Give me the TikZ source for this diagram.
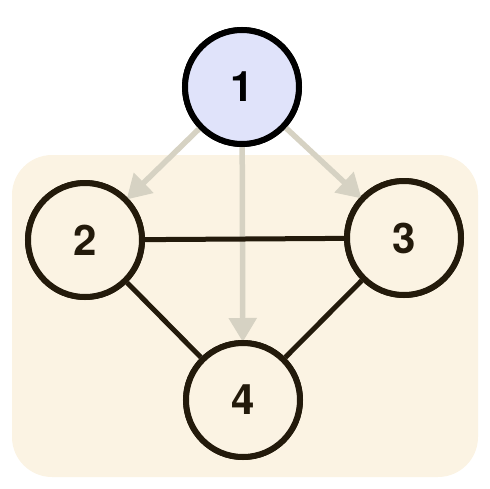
\documentclass[tikz,border=0pt]{standalone}
\usepackage{fontspec}
\setmainfont{TeX Gyre Heros}
\usetikzlibrary{arrows.meta}
\definecolor{bgcream}{HTML}{FBF3E3}
\definecolor{nodeline}{HTML}{231A0B}
\definecolor{topfill}{HTML}{E0E3FA}
\definecolor{arrowgrey}{HTML}{D6D2C3}
\begin{document}
\begin{tikzpicture}[x=1pt,y=-1pt,
  vtx/.style={circle,draw=nodeline,line width=6pt,minimum size=114pt,inner sep=0pt,fill=bgcream,font=\fontsize{42}{42}\selectfont\bfseries,text=nodeline},
  topvtx/.style={vtx,draw=black,fill=topfill,text=black},
  garrow/.style={draw=arrowgrey,line width=5.5pt,-{Triangle[length=24pt,width=27pt]},shorten >=-2pt},
  link/.style={draw=nodeline,line width=5pt}]
\useasboundingbox (0,0) rectangle (490,488);
\fill[bgcream,rounded corners=40pt] (12,155) rectangle (478,477);
\node[topvtx] (n1) at (242,87) {1};
\node[vtx] (n2) at (85,240) {2};
\node[vtx] (n3) at (404,238) {3};
\node[vtx] (n4) at (243,400) {4};
\path[garrow] (n1) -- (n2);
\path[garrow] (n1) -- (n3);
\path[garrow] (n1) -- (n4);
\path[link] (n2) -- (n3);
\path[link] (n2) -- (n4);
\path[link] (n3) -- (n4);
\node[topvtx] at (n1) {1};
\node[vtx] at (n2) {2};
\node[vtx] at (n3) {3};
\node[vtx] at (n4) {4};
\end{tikzpicture}
\end{document}
